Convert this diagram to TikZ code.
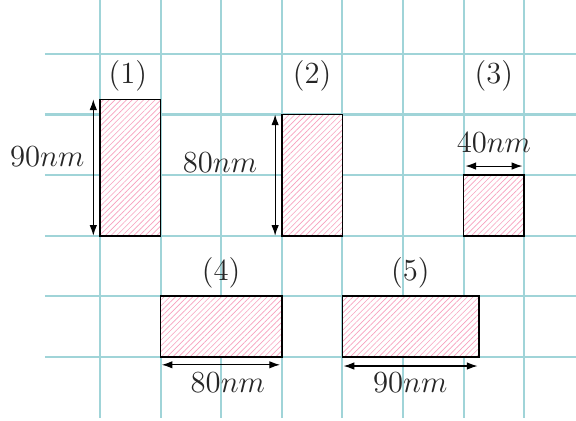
\documentclass[tikz,border=0pt]{standalone}
\usetikzlibrary{patterns.meta,arrows.meta}
\definecolor{gridc}{RGB}{160,212,216}
\definecolor{hatchc}{RGB}{248,160,190}
\begin{document}
\begin{tikzpicture}[x=1cm,y=1cm,
  gridline/.style={gridc,line width=1pt},
  block/.style={draw=black,line width=0.8pt,preaction={fill=white},pattern={Lines[angle=45,distance=1.9pt,line width=0.3pt]},pattern color=hatchc},
  dim/.style={line width=0.5pt,{Latex[length=5pt,width=3.5pt]}-{Latex[length=5pt,width=3.5pt]}},
  lbl/.style={font=\Large,text=black!85,inner sep=0pt}]
\useasboundingbox (-1.65,-1.056) rectangle (7.855,5.89);
% grid
\foreach \x in {0,...,7} \draw[gridline] (\x,-1.0) -- (\x,5.89);
\foreach \y in {0,...,5} \draw[gridline] (-0.91,\y) -- (7.855,\y);
% blocks
\path[block] (0,2) rectangle (1,4.25);
\path[block] (3,2) rectangle (4,4);
\path[block] (6,2) rectangle (7,3);
\path[block] (1,0) rectangle (3,1);
\path[block] (4,0) rectangle (6.25,1);
\coordinate (a1) at (-0.11,4.25); \coordinate (a2) at (-0.11,2);
\coordinate (b1) at (2.89,4); \coordinate (b2) at (2.89,2);
\coordinate (c1) at (6.03,3.15); \coordinate (c2) at (6.97,3.15);
\coordinate (d1) at (1.02,-0.13); \coordinate (d2) at (2.97,-0.13);
\coordinate (e1) at (4.02,-0.15); \coordinate (e2) at (6.23,-0.15);
\draw[dim] (a1) -- (a2);
\draw[dim] (b1) -- (b2);
\draw[dim] (c1) -- (c2);
\draw[dim] (d1) -- (d2);
\draw[dim] (e1) -- (e2);
% labels
\node[lbl] (l1) at (0.46,4.64) {(1)};
\node[lbl] (l2) at (3.5,4.64) {(2)};
\node[lbl] (l3) at (6.5,4.64) {(3)};
\node[lbl] (l4) at (2,1.39) {(4)};
\node[lbl] (l5) at (5.12,1.39) {(5)};
\node[lbl] (t1) at (-0.87,3.3) {$90nm$};
\node[lbl] (t2) at (1.98,3.2) {$80nm$};
\node[lbl] (t3) at (6.5,3.53) {$40nm$};
\node[lbl] (t4) at (2.11,-0.43) {$80nm$};
\node[lbl] (t5) at (5.12,-0.43) {$90nm$};
\end{tikzpicture}
\end{document}
